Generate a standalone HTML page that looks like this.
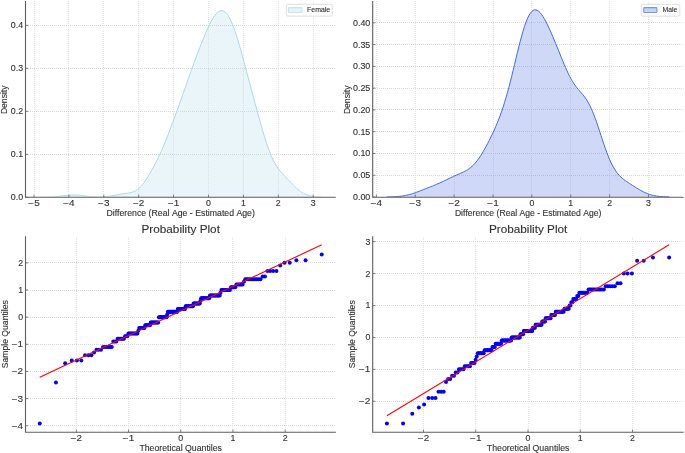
<!DOCTYPE html>
<html><head><meta charset="utf-8"><title>plot</title>
<style>html,body{margin:0;padding:0;background:#fff;width:685px;height:453px;overflow:hidden}svg{display:block;will-change:transform}</style>
</head><body>
<svg width="685" height="453" viewBox="0 0 685 453" font-family='"Liberation Sans", sans-serif'>
<style>.g{stroke:#d8d8d8;stroke-width:1;stroke-dasharray:1 1;fill:none}.gv{stroke:#e4e4e4;stroke-width:1;stroke-dasharray:1 1;fill:none}.sp{stroke:#5e5e5e;stroke-width:1.1;fill:none}.tk{stroke:#5e5e5e;stroke-width:0.8}circle{fill:#0000ff}text{stroke:#333333;stroke-width:0.12;font-variant-ligatures:none;font-kerning:none}</style>
<rect width="685" height="453" fill="#ffffff"/>
<line x1="34.50" y1="1" x2="34.50" y2="197.30" class="gv"/>
<line x1="68.50" y1="1" x2="68.50" y2="197.30" class="gv"/>
<line x1="103.50" y1="1" x2="103.50" y2="197.30" class="gv"/>
<line x1="138.50" y1="1" x2="138.50" y2="197.30" class="gv"/>
<line x1="173.50" y1="1" x2="173.50" y2="197.30" class="gv"/>
<line x1="208.50" y1="1" x2="208.50" y2="197.30" class="gv"/>
<line x1="243.50" y1="1" x2="243.50" y2="197.30" class="gv"/>
<line x1="278.50" y1="1" x2="278.50" y2="197.30" class="gv"/>
<line x1="313.50" y1="1" x2="313.50" y2="197.30" class="gv"/>
<line x1="26.00" y1="154.50" x2="335.80" y2="154.50" class="g"/>
<line x1="26.00" y1="111.50" x2="335.80" y2="111.50" class="g"/>
<line x1="26.00" y1="68.50" x2="335.80" y2="68.50" class="g"/>
<line x1="26.00" y1="25.50" x2="335.80" y2="25.50" class="g"/>
<path d="M38.99 197.28L40.41 197.27L41.83 197.26L43.26 197.25L44.68 197.22L46.10 197.19L47.52 197.16L48.95 197.11L50.37 197.04L51.79 196.96L53.21 196.87L54.63 196.76L56.06 196.63L57.48 196.49L58.90 196.33L60.32 196.15L61.74 195.97L63.17 195.79L64.59 195.61L66.01 195.44L67.43 195.28L68.86 195.15L70.28 195.05L71.70 194.99L73.12 194.96L74.54 194.97L75.97 195.02L77.39 195.10L78.81 195.22L80.23 195.36L81.65 195.52L83.08 195.70L84.50 195.88L85.92 196.06L87.34 196.23L88.77 196.40L90.19 196.54L91.61 196.67L93.03 196.77L94.45 196.86L95.88 196.91L97.30 196.95L98.72 196.95L100.14 196.93L101.56 196.89L102.99 196.81L104.41 196.71L105.83 196.58L107.25 196.42L108.68 196.23L110.10 196.01L111.52 195.78L112.94 195.53L114.36 195.26L115.79 195.00L117.21 194.73L118.63 194.48L120.05 194.23L121.47 194.01L122.90 193.81L124.32 193.62L125.74 193.43L127.16 193.24L128.58 193.02L130.01 192.76L131.43 192.43L132.85 191.99L134.27 191.43L135.70 190.72L137.12 189.83L138.54 188.75L139.96 187.46L141.38 185.96L142.81 184.26L144.23 182.38L145.65 180.32L147.07 178.11L148.49 175.78L149.92 173.35L151.34 170.83L152.76 168.25L154.18 165.60L155.61 162.90L157.03 160.11L158.45 157.24L159.87 154.27L161.29 151.19L162.72 147.97L164.14 144.63L165.56 141.16L166.98 137.58L168.40 133.90L169.83 130.15L171.25 126.34L172.67 122.50L174.09 118.64L175.52 114.77L176.94 110.88L178.36 106.98L179.78 103.06L181.20 99.10L182.63 95.11L184.05 91.08L185.47 87.02L186.89 82.94L188.31 78.87L189.74 74.81L191.16 70.79L192.58 66.82L194.00 62.90L195.43 59.05L196.85 55.26L198.27 51.53L199.69 47.85L201.11 44.22L202.54 40.65L203.96 37.14L205.38 33.72L206.80 30.40L208.22 27.22L209.65 24.22L211.07 21.43L212.49 18.88L213.91 16.61L215.33 14.66L216.76 13.05L218.18 11.81L219.60 10.98L221.02 10.57L222.45 10.61L223.87 11.12L225.29 12.11L226.71 13.59L228.13 15.55L229.56 17.98L230.98 20.86L232.40 24.16L233.82 27.85L235.24 31.89L236.67 36.23L238.09 40.83L239.51 45.66L240.93 50.67L242.36 55.81L243.78 61.06L245.20 66.38L246.62 71.73L248.04 77.10L249.47 82.47L250.89 87.81L252.31 93.13L253.73 98.42L255.15 103.68L256.58 108.90L258.00 114.08L259.42 119.20L260.84 124.25L262.27 129.21L263.69 134.02L265.11 138.66L266.53 143.09L267.95 147.26L269.38 151.15L270.80 154.73L272.22 157.98L273.64 160.93L275.06 163.57L276.49 165.94L277.91 168.07L279.33 170.00L280.75 171.77L282.18 173.44L283.60 175.02L285.02 176.55L286.44 178.06L287.86 179.55L289.29 181.03L290.71 182.50L292.13 183.95L293.55 185.36L294.97 186.74L296.40 188.05L297.82 189.29L299.24 190.44L300.66 191.49L302.08 192.45L303.51 193.30L304.93 194.04L306.35 194.68L307.77 195.22L309.20 195.67L310.62 196.05L312.04 196.35L313.46 196.59L314.88 196.77L316.31 196.92L317.73 197.03L319.15 197.11L320.57 197.17L321.99 197.21 L321.99 197.30 L38.99 197.30 Z" fill="#add8e6" fill-opacity="0.25" stroke="none"/>
<clipPath id="c25"><rect x="25.50" y="1.00" width="310.30" height="195.60"/></clipPath>
<path d="M38.99 197.28L40.41 197.27L41.83 197.26L43.26 197.25L44.68 197.22L46.10 197.19L47.52 197.16L48.95 197.11L50.37 197.04L51.79 196.96L53.21 196.87L54.63 196.76L56.06 196.63L57.48 196.49L58.90 196.33L60.32 196.15L61.74 195.97L63.17 195.79L64.59 195.61L66.01 195.44L67.43 195.28L68.86 195.15L70.28 195.05L71.70 194.99L73.12 194.96L74.54 194.97L75.97 195.02L77.39 195.10L78.81 195.22L80.23 195.36L81.65 195.52L83.08 195.70L84.50 195.88L85.92 196.06L87.34 196.23L88.77 196.40L90.19 196.54L91.61 196.67L93.03 196.77L94.45 196.86L95.88 196.91L97.30 196.95L98.72 196.95L100.14 196.93L101.56 196.89L102.99 196.81L104.41 196.71L105.83 196.58L107.25 196.42L108.68 196.23L110.10 196.01L111.52 195.78L112.94 195.53L114.36 195.26L115.79 195.00L117.21 194.73L118.63 194.48L120.05 194.23L121.47 194.01L122.90 193.81L124.32 193.62L125.74 193.43L127.16 193.24L128.58 193.02L130.01 192.76L131.43 192.43L132.85 191.99L134.27 191.43L135.70 190.72L137.12 189.83L138.54 188.75L139.96 187.46L141.38 185.96L142.81 184.26L144.23 182.38L145.65 180.32L147.07 178.11L148.49 175.78L149.92 173.35L151.34 170.83L152.76 168.25L154.18 165.60L155.61 162.90L157.03 160.11L158.45 157.24L159.87 154.27L161.29 151.19L162.72 147.97L164.14 144.63L165.56 141.16L166.98 137.58L168.40 133.90L169.83 130.15L171.25 126.34L172.67 122.50L174.09 118.64L175.52 114.77L176.94 110.88L178.36 106.98L179.78 103.06L181.20 99.10L182.63 95.11L184.05 91.08L185.47 87.02L186.89 82.94L188.31 78.87L189.74 74.81L191.16 70.79L192.58 66.82L194.00 62.90L195.43 59.05L196.85 55.26L198.27 51.53L199.69 47.85L201.11 44.22L202.54 40.65L203.96 37.14L205.38 33.72L206.80 30.40L208.22 27.22L209.65 24.22L211.07 21.43L212.49 18.88L213.91 16.61L215.33 14.66L216.76 13.05L218.18 11.81L219.60 10.98L221.02 10.57L222.45 10.61L223.87 11.12L225.29 12.11L226.71 13.59L228.13 15.55L229.56 17.98L230.98 20.86L232.40 24.16L233.82 27.85L235.24 31.89L236.67 36.23L238.09 40.83L239.51 45.66L240.93 50.67L242.36 55.81L243.78 61.06L245.20 66.38L246.62 71.73L248.04 77.10L249.47 82.47L250.89 87.81L252.31 93.13L253.73 98.42L255.15 103.68L256.58 108.90L258.00 114.08L259.42 119.20L260.84 124.25L262.27 129.21L263.69 134.02L265.11 138.66L266.53 143.09L267.95 147.26L269.38 151.15L270.80 154.73L272.22 157.98L273.64 160.93L275.06 163.57L276.49 165.94L277.91 168.07L279.33 170.00L280.75 171.77L282.18 173.44L283.60 175.02L285.02 176.55L286.44 178.06L287.86 179.55L289.29 181.03L290.71 182.50L292.13 183.95L293.55 185.36L294.97 186.74L296.40 188.05L297.82 189.29L299.24 190.44L300.66 191.49L302.08 192.45L303.51 193.30L304.93 194.04L306.35 194.68L307.77 195.22L309.20 195.67L310.62 196.05L312.04 196.35L313.46 196.59L314.88 196.77L316.31 196.92L317.73 197.03L319.15 197.11L320.57 197.17L321.99 197.21" fill="none" stroke="#add8e6" stroke-width="1.0" stroke-linejoin="round" clip-path="url(#c25)"/>
<path d="M25.50 1.00 V197.30 H335.80" class="sp"/>
<line x1="34.00" y1="197.30" x2="34.00" y2="194.70" class="tk"/>
<text x="34.00" y="205.70" font-size="8.20" text-anchor="middle" fill="#333333" textLength="11.4" lengthAdjust="spacingAndGlyphs">−5</text>
<line x1="68.90" y1="197.30" x2="68.90" y2="194.70" class="tk"/>
<text x="68.90" y="205.70" font-size="8.20" text-anchor="middle" fill="#333333" textLength="11.4" lengthAdjust="spacingAndGlyphs">−4</text>
<line x1="103.80" y1="197.30" x2="103.80" y2="194.70" class="tk"/>
<text x="103.80" y="205.70" font-size="8.20" text-anchor="middle" fill="#333333" textLength="11.4" lengthAdjust="spacingAndGlyphs">−3</text>
<line x1="138.70" y1="197.30" x2="138.70" y2="194.70" class="tk"/>
<text x="138.70" y="205.70" font-size="8.20" text-anchor="middle" fill="#333333" textLength="11.4" lengthAdjust="spacingAndGlyphs">−2</text>
<line x1="173.60" y1="197.30" x2="173.60" y2="194.70" class="tk"/>
<text x="173.60" y="205.70" font-size="8.20" text-anchor="middle" fill="#333333" textLength="11.4" lengthAdjust="spacingAndGlyphs">−1</text>
<line x1="208.50" y1="197.30" x2="208.50" y2="194.70" class="tk"/>
<text x="208.50" y="205.70" font-size="8.20" text-anchor="middle" fill="#333333" textLength="4.9" lengthAdjust="spacingAndGlyphs">0</text>
<line x1="243.40" y1="197.30" x2="243.40" y2="194.70" class="tk"/>
<text x="243.40" y="205.70" font-size="8.20" text-anchor="middle" fill="#333333" textLength="4.9" lengthAdjust="spacingAndGlyphs">1</text>
<line x1="278.30" y1="197.30" x2="278.30" y2="194.70" class="tk"/>
<text x="278.30" y="205.70" font-size="8.20" text-anchor="middle" fill="#333333" textLength="4.9" lengthAdjust="spacingAndGlyphs">2</text>
<line x1="313.20" y1="197.30" x2="313.20" y2="194.70" class="tk"/>
<text x="313.20" y="205.70" font-size="8.20" text-anchor="middle" fill="#333333" textLength="4.9" lengthAdjust="spacingAndGlyphs">3</text>
<line x1="25.50" y1="197.30" x2="28.10" y2="197.30" class="tk"/>
<text x="23.10" y="200.25" font-size="8.20" text-anchor="end" fill="#333333" textLength="12.3" lengthAdjust="spacingAndGlyphs">0.0</text>
<line x1="25.50" y1="154.30" x2="28.10" y2="154.30" class="tk"/>
<text x="23.10" y="157.25" font-size="8.20" text-anchor="end" fill="#333333" textLength="12.3" lengthAdjust="spacingAndGlyphs">0.1</text>
<line x1="25.50" y1="111.30" x2="28.10" y2="111.30" class="tk"/>
<text x="23.10" y="114.25" font-size="8.20" text-anchor="end" fill="#333333" textLength="12.3" lengthAdjust="spacingAndGlyphs">0.2</text>
<line x1="25.50" y1="68.30" x2="28.10" y2="68.30" class="tk"/>
<text x="23.10" y="71.25" font-size="8.20" text-anchor="end" fill="#333333" textLength="12.3" lengthAdjust="spacingAndGlyphs">0.3</text>
<line x1="25.50" y1="25.30" x2="28.10" y2="25.30" class="tk"/>
<text x="23.10" y="28.25" font-size="8.20" text-anchor="end" fill="#333333" textLength="12.3" lengthAdjust="spacingAndGlyphs">0.4</text>
<rect x="286.30" y="4.30" width="46.00" height="11.80" rx="1.5" fill="#ffffff" fill-opacity="0.8" stroke="#d6d6d6" stroke-width="0.8"/>
<rect x="288.40" y="7.6" width="13.60" height="4.9" fill="#add8e6" fill-opacity="0.3" stroke="#add8e6" stroke-opacity="0.65" stroke-width="1.1" rx="0.8"/>
<text x="307.10" y="12.10" font-size="6.80" text-anchor="start" fill="#333333" textLength="23.0" lengthAdjust="spacingAndGlyphs">Female</text>
<text x="180.65" y="215.60" font-size="8.20" text-anchor="middle" fill="#333333" textLength="148.5" lengthAdjust="spacingAndGlyphs">Difference (Real Age - Estimated Age)</text>
<text transform="translate(6.90 99.80) rotate(-90)" font-size="8.20" text-anchor="middle" fill="#333333" textLength="28.6" lengthAdjust="spacingAndGlyphs">Density</text>
<line x1="376.50" y1="1" x2="376.50" y2="197.20" class="gv"/>
<line x1="415.50" y1="1" x2="415.50" y2="197.20" class="gv"/>
<line x1="454.50" y1="1" x2="454.50" y2="197.20" class="gv"/>
<line x1="493.50" y1="1" x2="493.50" y2="197.20" class="gv"/>
<line x1="531.50" y1="1" x2="531.50" y2="197.20" class="gv"/>
<line x1="570.50" y1="1" x2="570.50" y2="197.20" class="gv"/>
<line x1="609.50" y1="1" x2="609.50" y2="197.20" class="gv"/>
<line x1="648.50" y1="1" x2="648.50" y2="197.20" class="gv"/>
<line x1="373.00" y1="175.50" x2="683.60" y2="175.50" class="g"/>
<line x1="373.00" y1="153.50" x2="683.60" y2="153.50" class="g"/>
<line x1="373.00" y1="131.50" x2="683.60" y2="131.50" class="g"/>
<line x1="373.00" y1="109.50" x2="683.60" y2="109.50" class="g"/>
<line x1="373.00" y1="88.50" x2="683.60" y2="88.50" class="g"/>
<line x1="373.00" y1="66.50" x2="683.60" y2="66.50" class="g"/>
<line x1="373.00" y1="44.50" x2="683.60" y2="44.50" class="g"/>
<line x1="373.00" y1="22.50" x2="683.60" y2="22.50" class="g"/>
<path d="M386.91 196.94L388.32 196.92L389.74 196.89L391.16 196.86L392.58 196.81L394.00 196.75L395.41 196.67L396.83 196.58L398.25 196.47L399.67 196.33L401.08 196.17L402.50 195.98L403.92 195.75L405.34 195.49L406.76 195.20L408.17 194.87L409.59 194.51L411.01 194.11L412.43 193.68L413.85 193.22L415.26 192.73L416.68 192.21L418.10 191.68L419.52 191.14L420.94 190.59L422.35 190.03L423.77 189.46L425.19 188.90L426.61 188.34L428.03 187.78L429.44 187.23L430.86 186.67L432.28 186.11L433.70 185.54L435.12 184.96L436.53 184.37L437.95 183.77L439.37 183.15L440.79 182.51L442.21 181.85L443.62 181.18L445.04 180.49L446.46 179.80L447.88 179.10L449.30 178.40L450.71 177.71L452.13 177.03L453.55 176.37L454.97 175.72L456.39 175.08L457.80 174.46L459.22 173.85L460.64 173.23L462.06 172.60L463.48 171.94L464.89 171.23L466.31 170.46L467.73 169.61L469.15 168.65L470.57 167.58L471.98 166.38L473.40 165.03L474.82 163.53L476.24 161.88L477.66 160.07L479.07 158.10L480.49 155.99L481.91 153.75L483.33 151.38L484.74 148.90L486.16 146.33L487.58 143.66L489.00 140.91L490.42 138.07L491.83 135.15L493.25 132.14L494.67 129.02L496.09 125.77L497.51 122.38L498.92 118.81L500.34 115.05L501.76 111.07L503.18 106.85L504.60 102.38L506.01 97.64L507.43 92.64L508.85 87.39L510.27 81.92L511.69 76.25L513.10 70.44L514.52 64.54L515.94 58.60L517.36 52.71L518.78 46.94L520.19 41.37L521.61 36.06L523.03 31.11L524.45 26.56L525.87 22.50L527.28 18.95L528.70 15.97L530.12 13.57L531.54 11.77L532.96 10.56L534.37 9.93L535.79 9.86L537.21 10.30L538.63 11.23L540.05 12.58L541.46 14.31L542.88 16.38L544.30 18.72L545.72 21.30L547.14 24.09L548.55 27.03L549.97 30.12L551.39 33.31L552.81 36.60L554.23 39.97L555.64 43.40L557.06 46.88L558.48 50.39L559.90 53.92L561.32 57.43L562.73 60.90L564.15 64.31L565.57 67.61L566.99 70.79L568.41 73.81L569.82 76.65L571.24 79.28L572.66 81.70L574.08 83.91L575.49 85.93L576.91 87.78L578.33 89.50L579.75 91.14L581.17 92.75L582.58 94.39L584.00 96.13L585.42 98.03L586.84 100.14L588.26 102.50L589.67 105.15L591.09 108.10L592.51 111.35L593.93 114.90L595.35 118.71L596.76 122.73L598.18 126.93L599.60 131.23L601.02 135.58L602.44 139.90L603.85 144.14L605.27 148.25L606.69 152.16L608.11 155.84L609.53 159.26L610.94 162.41L612.36 165.26L613.78 167.83L615.20 170.13L616.62 172.16L618.03 173.97L619.45 175.57L620.87 176.99L622.29 178.26L623.71 179.42L625.12 180.49L626.54 181.50L627.96 182.46L629.38 183.39L630.80 184.30L632.21 185.21L633.63 186.11L635.05 187.00L636.47 187.88L637.89 188.74L639.30 189.58L640.72 190.39L642.14 191.17L643.56 191.90L644.98 192.58L646.39 193.21L647.81 193.78L649.23 194.29L650.65 194.74L652.07 195.14L653.48 195.48L654.90 195.78L656.32 196.02L657.74 196.23L659.16 196.40L660.57 196.53L661.99 196.64L663.41 196.73L664.83 196.80L666.24 196.85L667.66 196.89L669.08 196.92 L669.08 197.00 L386.91 197.00 Z" fill="#4169e1" fill-opacity="0.25" stroke="none"/>
<clipPath id="c372"><rect x="372.70" y="1.00" width="310.90" height="196.20"/></clipPath>
<path d="M386.91 196.94L388.32 196.92L389.74 196.89L391.16 196.86L392.58 196.81L394.00 196.75L395.41 196.67L396.83 196.58L398.25 196.47L399.67 196.33L401.08 196.17L402.50 195.98L403.92 195.75L405.34 195.49L406.76 195.20L408.17 194.87L409.59 194.51L411.01 194.11L412.43 193.68L413.85 193.22L415.26 192.73L416.68 192.21L418.10 191.68L419.52 191.14L420.94 190.59L422.35 190.03L423.77 189.46L425.19 188.90L426.61 188.34L428.03 187.78L429.44 187.23L430.86 186.67L432.28 186.11L433.70 185.54L435.12 184.96L436.53 184.37L437.95 183.77L439.37 183.15L440.79 182.51L442.21 181.85L443.62 181.18L445.04 180.49L446.46 179.80L447.88 179.10L449.30 178.40L450.71 177.71L452.13 177.03L453.55 176.37L454.97 175.72L456.39 175.08L457.80 174.46L459.22 173.85L460.64 173.23L462.06 172.60L463.48 171.94L464.89 171.23L466.31 170.46L467.73 169.61L469.15 168.65L470.57 167.58L471.98 166.38L473.40 165.03L474.82 163.53L476.24 161.88L477.66 160.07L479.07 158.10L480.49 155.99L481.91 153.75L483.33 151.38L484.74 148.90L486.16 146.33L487.58 143.66L489.00 140.91L490.42 138.07L491.83 135.15L493.25 132.14L494.67 129.02L496.09 125.77L497.51 122.38L498.92 118.81L500.34 115.05L501.76 111.07L503.18 106.85L504.60 102.38L506.01 97.64L507.43 92.64L508.85 87.39L510.27 81.92L511.69 76.25L513.10 70.44L514.52 64.54L515.94 58.60L517.36 52.71L518.78 46.94L520.19 41.37L521.61 36.06L523.03 31.11L524.45 26.56L525.87 22.50L527.28 18.95L528.70 15.97L530.12 13.57L531.54 11.77L532.96 10.56L534.37 9.93L535.79 9.86L537.21 10.30L538.63 11.23L540.05 12.58L541.46 14.31L542.88 16.38L544.30 18.72L545.72 21.30L547.14 24.09L548.55 27.03L549.97 30.12L551.39 33.31L552.81 36.60L554.23 39.97L555.64 43.40L557.06 46.88L558.48 50.39L559.90 53.92L561.32 57.43L562.73 60.90L564.15 64.31L565.57 67.61L566.99 70.79L568.41 73.81L569.82 76.65L571.24 79.28L572.66 81.70L574.08 83.91L575.49 85.93L576.91 87.78L578.33 89.50L579.75 91.14L581.17 92.75L582.58 94.39L584.00 96.13L585.42 98.03L586.84 100.14L588.26 102.50L589.67 105.15L591.09 108.10L592.51 111.35L593.93 114.90L595.35 118.71L596.76 122.73L598.18 126.93L599.60 131.23L601.02 135.58L602.44 139.90L603.85 144.14L605.27 148.25L606.69 152.16L608.11 155.84L609.53 159.26L610.94 162.41L612.36 165.26L613.78 167.83L615.20 170.13L616.62 172.16L618.03 173.97L619.45 175.57L620.87 176.99L622.29 178.26L623.71 179.42L625.12 180.49L626.54 181.50L627.96 182.46L629.38 183.39L630.80 184.30L632.21 185.21L633.63 186.11L635.05 187.00L636.47 187.88L637.89 188.74L639.30 189.58L640.72 190.39L642.14 191.17L643.56 191.90L644.98 192.58L646.39 193.21L647.81 193.78L649.23 194.29L650.65 194.74L652.07 195.14L653.48 195.48L654.90 195.78L656.32 196.02L657.74 196.23L659.16 196.40L660.57 196.53L661.99 196.64L663.41 196.73L664.83 196.80L666.24 196.85L667.66 196.89L669.08 196.92" fill="none" stroke="#4169e1" stroke-width="1.0" stroke-linejoin="round" clip-path="url(#c372)"/>
<path d="M372.70 1.00 V197.20 H683.60" class="sp"/>
<line x1="376.40" y1="197.20" x2="376.40" y2="194.60" class="tk"/>
<text x="376.40" y="205.60" font-size="8.20" text-anchor="middle" fill="#333333" textLength="11.4" lengthAdjust="spacingAndGlyphs">−4</text>
<line x1="415.27" y1="197.20" x2="415.27" y2="194.60" class="tk"/>
<text x="415.27" y="205.60" font-size="8.20" text-anchor="middle" fill="#333333" textLength="11.4" lengthAdjust="spacingAndGlyphs">−3</text>
<line x1="454.14" y1="197.20" x2="454.14" y2="194.60" class="tk"/>
<text x="454.14" y="205.60" font-size="8.20" text-anchor="middle" fill="#333333" textLength="11.4" lengthAdjust="spacingAndGlyphs">−2</text>
<line x1="493.01" y1="197.20" x2="493.01" y2="194.60" class="tk"/>
<text x="493.01" y="205.60" font-size="8.20" text-anchor="middle" fill="#333333" textLength="11.4" lengthAdjust="spacingAndGlyphs">−1</text>
<line x1="531.88" y1="197.20" x2="531.88" y2="194.60" class="tk"/>
<text x="531.88" y="205.60" font-size="8.20" text-anchor="middle" fill="#333333" textLength="4.9" lengthAdjust="spacingAndGlyphs">0</text>
<line x1="570.75" y1="197.20" x2="570.75" y2="194.60" class="tk"/>
<text x="570.75" y="205.60" font-size="8.20" text-anchor="middle" fill="#333333" textLength="4.9" lengthAdjust="spacingAndGlyphs">1</text>
<line x1="609.62" y1="197.20" x2="609.62" y2="194.60" class="tk"/>
<text x="609.62" y="205.60" font-size="8.20" text-anchor="middle" fill="#333333" textLength="4.9" lengthAdjust="spacingAndGlyphs">2</text>
<line x1="648.49" y1="197.20" x2="648.49" y2="194.60" class="tk"/>
<text x="648.49" y="205.60" font-size="8.20" text-anchor="middle" fill="#333333" textLength="4.9" lengthAdjust="spacingAndGlyphs">3</text>
<line x1="372.70" y1="197.00" x2="375.30" y2="197.00" class="tk"/>
<text x="370.30" y="199.95" font-size="8.20" text-anchor="end" fill="#333333" textLength="17.3" lengthAdjust="spacingAndGlyphs">0.00</text>
<line x1="372.70" y1="175.22" x2="375.30" y2="175.22" class="tk"/>
<text x="370.30" y="178.17" font-size="8.20" text-anchor="end" fill="#333333" textLength="17.3" lengthAdjust="spacingAndGlyphs">0.05</text>
<line x1="372.70" y1="153.45" x2="375.30" y2="153.45" class="tk"/>
<text x="370.30" y="156.40" font-size="8.20" text-anchor="end" fill="#333333" textLength="17.3" lengthAdjust="spacingAndGlyphs">0.10</text>
<line x1="372.70" y1="131.68" x2="375.30" y2="131.68" class="tk"/>
<text x="370.30" y="134.62" font-size="8.20" text-anchor="end" fill="#333333" textLength="17.3" lengthAdjust="spacingAndGlyphs">0.15</text>
<line x1="372.70" y1="109.90" x2="375.30" y2="109.90" class="tk"/>
<text x="370.30" y="112.85" font-size="8.20" text-anchor="end" fill="#333333" textLength="17.3" lengthAdjust="spacingAndGlyphs">0.20</text>
<line x1="372.70" y1="88.12" x2="375.30" y2="88.12" class="tk"/>
<text x="370.30" y="91.08" font-size="8.20" text-anchor="end" fill="#333333" textLength="17.3" lengthAdjust="spacingAndGlyphs">0.25</text>
<line x1="372.70" y1="66.35" x2="375.30" y2="66.35" class="tk"/>
<text x="370.30" y="69.30" font-size="8.20" text-anchor="end" fill="#333333" textLength="17.3" lengthAdjust="spacingAndGlyphs">0.30</text>
<line x1="372.70" y1="44.58" x2="375.30" y2="44.58" class="tk"/>
<text x="370.30" y="47.53" font-size="8.20" text-anchor="end" fill="#333333" textLength="17.3" lengthAdjust="spacingAndGlyphs">0.35</text>
<line x1="372.70" y1="22.80" x2="375.30" y2="22.80" class="tk"/>
<text x="370.30" y="25.75" font-size="8.20" text-anchor="end" fill="#333333" textLength="17.3" lengthAdjust="spacingAndGlyphs">0.40</text>
<rect x="641.30" y="4.30" width="38.50" height="11.80" rx="1.5" fill="#ffffff" fill-opacity="0.8" stroke="#d6d6d6" stroke-width="0.8"/>
<rect x="643.70" y="7.6" width="13.30" height="4.9" fill="#4169e1" fill-opacity="0.3" stroke="#4169e1" stroke-opacity="0.65" stroke-width="1.1" rx="0.8"/>
<text x="662.50" y="12.10" font-size="6.80" text-anchor="start" fill="#333333" textLength="14.8" lengthAdjust="spacingAndGlyphs">Male</text>
<text x="528.15" y="215.60" font-size="8.20" text-anchor="middle" fill="#333333" textLength="146.5" lengthAdjust="spacingAndGlyphs">Difference (Real Age - Estimated Age)</text>
<text transform="translate(349.90 99.80) rotate(-90)" font-size="8.20" text-anchor="middle" fill="#333333" textLength="28.6" lengthAdjust="spacingAndGlyphs">Density</text>
<line x1="76.50" y1="237" x2="76.50" y2="432.20" class="gv"/>
<line x1="128.50" y1="237" x2="128.50" y2="432.20" class="gv"/>
<line x1="180.50" y1="237" x2="180.50" y2="432.20" class="gv"/>
<line x1="232.50" y1="237" x2="232.50" y2="432.20" class="gv"/>
<line x1="285.50" y1="237" x2="285.50" y2="432.20" class="gv"/>
<line x1="26.00" y1="425.50" x2="335.90" y2="425.50" class="g"/>
<line x1="26.00" y1="398.50" x2="335.90" y2="398.50" class="g"/>
<line x1="26.00" y1="371.50" x2="335.90" y2="371.50" class="g"/>
<line x1="26.00" y1="344.50" x2="335.90" y2="344.50" class="g"/>
<line x1="26.00" y1="317.50" x2="335.90" y2="317.50" class="g"/>
<line x1="26.00" y1="290.50" x2="335.90" y2="290.50" class="g"/>
<line x1="26.00" y1="262.50" x2="335.90" y2="262.50" class="g"/>
<circle cx="39.77" cy="423.44" r="2.0"/>
<circle cx="55.93" cy="382.58" r="2.0"/>
<circle cx="65.14" cy="363.30" r="2.0"/>
<circle cx="71.73" cy="360.59" r="2.0"/>
<circle cx="76.94" cy="360.59" r="2.0"/>
<circle cx="81.29" cy="360.59" r="2.0"/>
<circle cx="85.03" cy="355.16" r="2.0"/>
<circle cx="88.34" cy="355.16" r="2.0"/>
<circle cx="91.32" cy="355.16" r="2.0"/>
<circle cx="94.03" cy="352.44" r="2.0"/>
<circle cx="96.52" cy="349.73" r="2.0"/>
<circle cx="98.84" cy="349.73" r="2.0"/>
<circle cx="101.01" cy="349.73" r="2.0"/>
<circle cx="103.04" cy="347.01" r="2.0"/>
<circle cx="104.97" cy="347.01" r="2.0"/>
<circle cx="106.79" cy="347.01" r="2.0"/>
<circle cx="108.53" cy="347.01" r="2.0"/>
<circle cx="110.20" cy="347.01" r="2.0"/>
<circle cx="111.79" cy="347.01" r="2.0"/>
<circle cx="113.32" cy="341.58" r="2.0"/>
<circle cx="114.80" cy="341.58" r="2.0"/>
<circle cx="116.23" cy="341.58" r="2.0"/>
<circle cx="117.61" cy="338.87" r="2.0"/>
<circle cx="118.94" cy="338.87" r="2.0"/>
<circle cx="120.24" cy="338.87" r="2.0"/>
<circle cx="121.50" cy="338.87" r="2.0"/>
<circle cx="122.73" cy="338.87" r="2.0"/>
<circle cx="123.92" cy="338.87" r="2.0"/>
<circle cx="125.09" cy="336.15" r="2.0"/>
<circle cx="126.23" cy="336.15" r="2.0"/>
<circle cx="127.34" cy="336.15" r="2.0"/>
<circle cx="128.44" cy="333.44" r="2.0"/>
<circle cx="129.50" cy="333.44" r="2.0"/>
<circle cx="130.55" cy="333.44" r="2.0"/>
<circle cx="131.58" cy="333.44" r="2.0"/>
<circle cx="132.59" cy="333.44" r="2.0"/>
<circle cx="133.58" cy="333.44" r="2.0"/>
<circle cx="134.55" cy="333.44" r="2.0"/>
<circle cx="135.51" cy="333.44" r="2.0"/>
<circle cx="136.45" cy="333.44" r="2.0"/>
<circle cx="137.38" cy="333.44" r="2.0"/>
<circle cx="138.30" cy="330.72" r="2.0"/>
<circle cx="139.20" cy="328.01" r="2.0"/>
<circle cx="140.09" cy="328.01" r="2.0"/>
<circle cx="140.97" cy="328.01" r="2.0"/>
<circle cx="141.84" cy="328.01" r="2.0"/>
<circle cx="142.69" cy="328.01" r="2.0"/>
<circle cx="143.54" cy="328.01" r="2.0"/>
<circle cx="144.38" cy="328.01" r="2.0"/>
<circle cx="145.21" cy="325.29" r="2.0"/>
<circle cx="146.02" cy="325.29" r="2.0"/>
<circle cx="146.84" cy="325.29" r="2.0"/>
<circle cx="147.64" cy="325.29" r="2.0"/>
<circle cx="148.43" cy="325.29" r="2.0"/>
<circle cx="149.22" cy="325.29" r="2.0"/>
<circle cx="150.00" cy="325.29" r="2.0"/>
<circle cx="150.77" cy="322.58" r="2.0"/>
<circle cx="151.54" cy="322.58" r="2.0"/>
<circle cx="152.30" cy="322.58" r="2.0"/>
<circle cx="153.06" cy="322.58" r="2.0"/>
<circle cx="153.80" cy="322.58" r="2.0"/>
<circle cx="154.55" cy="322.58" r="2.0"/>
<circle cx="155.29" cy="322.58" r="2.0"/>
<circle cx="156.02" cy="322.58" r="2.0"/>
<circle cx="156.75" cy="322.58" r="2.0"/>
<circle cx="157.47" cy="322.58" r="2.0"/>
<circle cx="158.19" cy="322.58" r="2.0"/>
<circle cx="158.91" cy="317.15" r="2.0"/>
<circle cx="159.62" cy="317.15" r="2.0"/>
<circle cx="160.32" cy="317.15" r="2.0"/>
<circle cx="161.03" cy="317.15" r="2.0"/>
<circle cx="161.73" cy="317.15" r="2.0"/>
<circle cx="162.42" cy="317.15" r="2.0"/>
<circle cx="163.11" cy="317.15" r="2.0"/>
<circle cx="163.80" cy="317.15" r="2.0"/>
<circle cx="164.49" cy="317.15" r="2.0"/>
<circle cx="165.18" cy="317.15" r="2.0"/>
<circle cx="165.86" cy="317.15" r="2.0"/>
<circle cx="166.54" cy="317.15" r="2.0"/>
<circle cx="167.21" cy="314.44" r="2.0"/>
<circle cx="167.89" cy="311.72" r="2.0"/>
<circle cx="168.56" cy="311.72" r="2.0"/>
<circle cx="169.23" cy="311.72" r="2.0"/>
<circle cx="169.90" cy="311.72" r="2.0"/>
<circle cx="170.56" cy="311.72" r="2.0"/>
<circle cx="171.23" cy="311.72" r="2.0"/>
<circle cx="171.89" cy="311.72" r="2.0"/>
<circle cx="172.55" cy="311.72" r="2.0"/>
<circle cx="173.21" cy="311.72" r="2.0"/>
<circle cx="173.87" cy="311.72" r="2.0"/>
<circle cx="174.53" cy="311.72" r="2.0"/>
<circle cx="175.19" cy="311.72" r="2.0"/>
<circle cx="175.85" cy="311.72" r="2.0"/>
<circle cx="176.50" cy="311.72" r="2.0"/>
<circle cx="177.16" cy="311.72" r="2.0"/>
<circle cx="177.81" cy="309.00" r="2.0"/>
<circle cx="178.46" cy="309.00" r="2.0"/>
<circle cx="179.12" cy="309.00" r="2.0"/>
<circle cx="179.77" cy="309.00" r="2.0"/>
<circle cx="180.42" cy="309.00" r="2.0"/>
<circle cx="181.08" cy="309.00" r="2.0"/>
<circle cx="181.73" cy="309.00" r="2.0"/>
<circle cx="182.38" cy="309.00" r="2.0"/>
<circle cx="183.04" cy="309.00" r="2.0"/>
<circle cx="183.69" cy="309.00" r="2.0"/>
<circle cx="184.34" cy="309.00" r="2.0"/>
<circle cx="185.00" cy="309.00" r="2.0"/>
<circle cx="185.65" cy="306.29" r="2.0"/>
<circle cx="186.31" cy="306.29" r="2.0"/>
<circle cx="186.97" cy="306.29" r="2.0"/>
<circle cx="187.63" cy="306.29" r="2.0"/>
<circle cx="188.29" cy="306.29" r="2.0"/>
<circle cx="188.95" cy="306.29" r="2.0"/>
<circle cx="189.61" cy="306.29" r="2.0"/>
<circle cx="190.27" cy="306.29" r="2.0"/>
<circle cx="190.94" cy="306.29" r="2.0"/>
<circle cx="191.60" cy="306.29" r="2.0"/>
<circle cx="192.27" cy="306.29" r="2.0"/>
<circle cx="192.94" cy="306.29" r="2.0"/>
<circle cx="193.61" cy="303.57" r="2.0"/>
<circle cx="194.29" cy="303.57" r="2.0"/>
<circle cx="194.96" cy="303.57" r="2.0"/>
<circle cx="195.64" cy="303.57" r="2.0"/>
<circle cx="196.32" cy="303.57" r="2.0"/>
<circle cx="197.01" cy="303.57" r="2.0"/>
<circle cx="197.70" cy="303.57" r="2.0"/>
<circle cx="198.39" cy="303.57" r="2.0"/>
<circle cx="199.08" cy="303.57" r="2.0"/>
<circle cx="199.77" cy="303.57" r="2.0"/>
<circle cx="200.47" cy="300.86" r="2.0"/>
<circle cx="201.18" cy="298.14" r="2.0"/>
<circle cx="201.88" cy="298.14" r="2.0"/>
<circle cx="202.59" cy="298.14" r="2.0"/>
<circle cx="203.31" cy="298.14" r="2.0"/>
<circle cx="204.03" cy="298.14" r="2.0"/>
<circle cx="204.75" cy="298.14" r="2.0"/>
<circle cx="205.48" cy="298.14" r="2.0"/>
<circle cx="206.21" cy="298.14" r="2.0"/>
<circle cx="206.95" cy="298.14" r="2.0"/>
<circle cx="207.70" cy="298.14" r="2.0"/>
<circle cx="208.44" cy="298.14" r="2.0"/>
<circle cx="209.20" cy="298.14" r="2.0"/>
<circle cx="209.96" cy="295.43" r="2.0"/>
<circle cx="210.73" cy="295.43" r="2.0"/>
<circle cx="211.50" cy="295.43" r="2.0"/>
<circle cx="212.28" cy="295.43" r="2.0"/>
<circle cx="213.07" cy="295.43" r="2.0"/>
<circle cx="213.86" cy="295.43" r="2.0"/>
<circle cx="214.66" cy="295.43" r="2.0"/>
<circle cx="215.48" cy="295.43" r="2.0"/>
<circle cx="216.29" cy="295.43" r="2.0"/>
<circle cx="217.12" cy="295.43" r="2.0"/>
<circle cx="217.96" cy="295.43" r="2.0"/>
<circle cx="218.81" cy="295.43" r="2.0"/>
<circle cx="219.66" cy="295.43" r="2.0"/>
<circle cx="220.53" cy="292.71" r="2.0"/>
<circle cx="221.41" cy="290.00" r="2.0"/>
<circle cx="222.30" cy="290.00" r="2.0"/>
<circle cx="223.20" cy="290.00" r="2.0"/>
<circle cx="224.12" cy="290.00" r="2.0"/>
<circle cx="225.05" cy="290.00" r="2.0"/>
<circle cx="225.99" cy="290.00" r="2.0"/>
<circle cx="226.95" cy="290.00" r="2.0"/>
<circle cx="227.92" cy="290.00" r="2.0"/>
<circle cx="228.91" cy="290.00" r="2.0"/>
<circle cx="229.92" cy="290.00" r="2.0"/>
<circle cx="230.95" cy="287.28" r="2.0"/>
<circle cx="232.00" cy="287.28" r="2.0"/>
<circle cx="233.06" cy="287.28" r="2.0"/>
<circle cx="234.16" cy="287.28" r="2.0"/>
<circle cx="235.27" cy="287.28" r="2.0"/>
<circle cx="236.41" cy="284.57" r="2.0"/>
<circle cx="237.58" cy="284.57" r="2.0"/>
<circle cx="238.77" cy="284.57" r="2.0"/>
<circle cx="240.00" cy="284.57" r="2.0"/>
<circle cx="241.26" cy="284.57" r="2.0"/>
<circle cx="242.56" cy="284.57" r="2.0"/>
<circle cx="243.89" cy="281.85" r="2.0"/>
<circle cx="245.27" cy="279.14" r="2.0"/>
<circle cx="246.70" cy="279.14" r="2.0"/>
<circle cx="248.18" cy="279.14" r="2.0"/>
<circle cx="249.71" cy="279.14" r="2.0"/>
<circle cx="251.30" cy="279.14" r="2.0"/>
<circle cx="252.97" cy="279.14" r="2.0"/>
<circle cx="254.71" cy="279.14" r="2.0"/>
<circle cx="256.53" cy="279.14" r="2.0"/>
<circle cx="258.46" cy="279.14" r="2.0"/>
<circle cx="260.49" cy="279.14" r="2.0"/>
<circle cx="262.66" cy="276.42" r="2.0"/>
<circle cx="264.98" cy="276.42" r="2.0"/>
<circle cx="267.47" cy="271.00" r="2.0"/>
<circle cx="270.18" cy="271.00" r="2.0"/>
<circle cx="273.16" cy="271.00" r="2.0"/>
<circle cx="276.47" cy="271.00" r="2.0"/>
<circle cx="280.21" cy="265.56" r="2.0"/>
<circle cx="284.56" cy="262.85" r="2.0"/>
<circle cx="289.77" cy="262.85" r="2.0"/>
<circle cx="296.36" cy="260.13" r="2.0"/>
<circle cx="305.57" cy="260.13" r="2.0"/>
<circle cx="321.73" cy="254.43" r="2.0"/>
<line x1="39.77" y1="377.18" x2="321.73" y2="244.82" stroke="#ff0000" stroke-width="1.1"/>
<path d="M25.50 236.30 V432.20 H335.90" class="sp"/>
<line x1="76.35" y1="432.20" x2="76.35" y2="429.60" class="tk"/>
<text x="76.35" y="440.60" font-size="8.20" text-anchor="middle" fill="#333333" textLength="11.4" lengthAdjust="spacingAndGlyphs">−2</text>
<line x1="128.55" y1="432.20" x2="128.55" y2="429.60" class="tk"/>
<text x="128.55" y="440.60" font-size="8.20" text-anchor="middle" fill="#333333" textLength="11.4" lengthAdjust="spacingAndGlyphs">−1</text>
<line x1="180.75" y1="432.20" x2="180.75" y2="429.60" class="tk"/>
<text x="180.75" y="440.60" font-size="8.20" text-anchor="middle" fill="#333333" textLength="4.9" lengthAdjust="spacingAndGlyphs">0</text>
<line x1="232.95" y1="432.20" x2="232.95" y2="429.60" class="tk"/>
<text x="232.95" y="440.60" font-size="8.20" text-anchor="middle" fill="#333333" textLength="4.9" lengthAdjust="spacingAndGlyphs">1</text>
<line x1="285.15" y1="432.20" x2="285.15" y2="429.60" class="tk"/>
<text x="285.15" y="440.60" font-size="8.20" text-anchor="middle" fill="#333333" textLength="4.9" lengthAdjust="spacingAndGlyphs">2</text>
<line x1="25.50" y1="425.75" x2="28.10" y2="425.75" class="tk"/>
<text x="23.10" y="428.70" font-size="8.20" text-anchor="end" fill="#333333" textLength="11.4" lengthAdjust="spacingAndGlyphs">−4</text>
<line x1="25.50" y1="398.60" x2="28.10" y2="398.60" class="tk"/>
<text x="23.10" y="401.55" font-size="8.20" text-anchor="end" fill="#333333" textLength="11.4" lengthAdjust="spacingAndGlyphs">−3</text>
<line x1="25.50" y1="371.45" x2="28.10" y2="371.45" class="tk"/>
<text x="23.10" y="374.40" font-size="8.20" text-anchor="end" fill="#333333" textLength="11.4" lengthAdjust="spacingAndGlyphs">−2</text>
<line x1="25.50" y1="344.30" x2="28.10" y2="344.30" class="tk"/>
<text x="23.10" y="347.25" font-size="8.20" text-anchor="end" fill="#333333" textLength="11.4" lengthAdjust="spacingAndGlyphs">−1</text>
<line x1="25.50" y1="317.15" x2="28.10" y2="317.15" class="tk"/>
<text x="23.10" y="320.10" font-size="8.20" text-anchor="end" fill="#333333" textLength="4.9" lengthAdjust="spacingAndGlyphs">0</text>
<line x1="25.50" y1="290.00" x2="28.10" y2="290.00" class="tk"/>
<text x="23.10" y="292.95" font-size="8.20" text-anchor="end" fill="#333333" textLength="4.9" lengthAdjust="spacingAndGlyphs">1</text>
<line x1="25.50" y1="262.85" x2="28.10" y2="262.85" class="tk"/>
<text x="23.10" y="265.80" font-size="8.20" text-anchor="end" fill="#333333" textLength="4.9" lengthAdjust="spacingAndGlyphs">2</text>
<text x="180.70" y="232.50" font-size="10.40" text-anchor="middle" fill="#333333" textLength="78.4" lengthAdjust="spacingAndGlyphs">Probability Plot</text>
<text x="180.70" y="451.00" font-size="8.20" text-anchor="middle" fill="#333333" textLength="82.6" lengthAdjust="spacingAndGlyphs">Theoretical Quantiles</text>
<text transform="translate(7.50 334.25) rotate(-90)" font-size="8.20" text-anchor="middle" fill="#333333" textLength="68" lengthAdjust="spacingAndGlyphs">Sample Quantiles</text>
<line x1="423.50" y1="237" x2="423.50" y2="432.30" class="gv"/>
<line x1="475.50" y1="237" x2="475.50" y2="432.30" class="gv"/>
<line x1="528.50" y1="237" x2="528.50" y2="432.30" class="gv"/>
<line x1="580.50" y1="237" x2="580.50" y2="432.30" class="gv"/>
<line x1="632.50" y1="237" x2="632.50" y2="432.30" class="gv"/>
<line x1="373.00" y1="401.50" x2="683.60" y2="401.50" class="g"/>
<line x1="373.00" y1="369.50" x2="683.60" y2="369.50" class="g"/>
<line x1="373.00" y1="337.50" x2="683.60" y2="337.50" class="g"/>
<line x1="373.00" y1="305.50" x2="683.60" y2="305.50" class="g"/>
<line x1="373.00" y1="273.50" x2="683.60" y2="273.50" class="g"/>
<line x1="373.00" y1="241.50" x2="683.60" y2="241.50" class="g"/>
<circle cx="386.89" cy="423.58" r="2.0"/>
<circle cx="403.06" cy="423.58" r="2.0"/>
<circle cx="412.28" cy="413.69" r="2.0"/>
<circle cx="418.88" cy="407.62" r="2.0"/>
<circle cx="424.09" cy="404.43" r="2.0"/>
<circle cx="428.44" cy="398.05" r="2.0"/>
<circle cx="432.19" cy="398.05" r="2.0"/>
<circle cx="435.50" cy="398.05" r="2.0"/>
<circle cx="438.48" cy="391.66" r="2.0"/>
<circle cx="441.20" cy="391.66" r="2.0"/>
<circle cx="443.69" cy="391.66" r="2.0"/>
<circle cx="446.01" cy="382.09" r="2.0"/>
<circle cx="448.18" cy="378.90" r="2.0"/>
<circle cx="450.22" cy="378.90" r="2.0"/>
<circle cx="452.14" cy="375.70" r="2.0"/>
<circle cx="453.97" cy="375.70" r="2.0"/>
<circle cx="455.71" cy="372.51" r="2.0"/>
<circle cx="457.38" cy="372.51" r="2.0"/>
<circle cx="458.98" cy="369.32" r="2.0"/>
<circle cx="460.51" cy="369.32" r="2.0"/>
<circle cx="461.99" cy="369.32" r="2.0"/>
<circle cx="463.41" cy="369.32" r="2.0"/>
<circle cx="464.80" cy="366.13" r="2.0"/>
<circle cx="466.13" cy="366.13" r="2.0"/>
<circle cx="467.43" cy="366.13" r="2.0"/>
<circle cx="468.69" cy="366.13" r="2.0"/>
<circle cx="469.92" cy="366.13" r="2.0"/>
<circle cx="471.12" cy="362.94" r="2.0"/>
<circle cx="472.29" cy="362.94" r="2.0"/>
<circle cx="473.43" cy="362.94" r="2.0"/>
<circle cx="474.54" cy="362.94" r="2.0"/>
<circle cx="475.64" cy="359.74" r="2.0"/>
<circle cx="476.70" cy="356.55" r="2.0"/>
<circle cx="477.75" cy="353.36" r="2.0"/>
<circle cx="478.78" cy="353.36" r="2.0"/>
<circle cx="479.79" cy="353.36" r="2.0"/>
<circle cx="480.78" cy="353.36" r="2.0"/>
<circle cx="481.76" cy="353.36" r="2.0"/>
<circle cx="482.72" cy="353.36" r="2.0"/>
<circle cx="483.66" cy="353.36" r="2.0"/>
<circle cx="484.59" cy="350.17" r="2.0"/>
<circle cx="485.51" cy="350.17" r="2.0"/>
<circle cx="486.41" cy="350.17" r="2.0"/>
<circle cx="487.30" cy="350.17" r="2.0"/>
<circle cx="488.18" cy="350.17" r="2.0"/>
<circle cx="489.05" cy="350.17" r="2.0"/>
<circle cx="489.91" cy="350.17" r="2.0"/>
<circle cx="490.76" cy="350.17" r="2.0"/>
<circle cx="491.59" cy="350.17" r="2.0"/>
<circle cx="492.42" cy="346.98" r="2.0"/>
<circle cx="493.24" cy="346.98" r="2.0"/>
<circle cx="494.05" cy="346.98" r="2.0"/>
<circle cx="494.86" cy="346.98" r="2.0"/>
<circle cx="495.65" cy="343.78" r="2.0"/>
<circle cx="496.44" cy="343.78" r="2.0"/>
<circle cx="497.22" cy="343.78" r="2.0"/>
<circle cx="497.99" cy="343.78" r="2.0"/>
<circle cx="498.76" cy="343.78" r="2.0"/>
<circle cx="499.52" cy="343.78" r="2.0"/>
<circle cx="500.28" cy="343.78" r="2.0"/>
<circle cx="501.03" cy="343.78" r="2.0"/>
<circle cx="501.77" cy="340.59" r="2.0"/>
<circle cx="502.51" cy="340.59" r="2.0"/>
<circle cx="503.25" cy="340.59" r="2.0"/>
<circle cx="503.97" cy="340.59" r="2.0"/>
<circle cx="504.70" cy="340.59" r="2.0"/>
<circle cx="505.42" cy="340.59" r="2.0"/>
<circle cx="506.13" cy="340.59" r="2.0"/>
<circle cx="506.85" cy="340.59" r="2.0"/>
<circle cx="507.55" cy="340.59" r="2.0"/>
<circle cx="508.26" cy="340.59" r="2.0"/>
<circle cx="508.96" cy="340.59" r="2.0"/>
<circle cx="509.65" cy="340.59" r="2.0"/>
<circle cx="510.35" cy="340.59" r="2.0"/>
<circle cx="511.04" cy="340.59" r="2.0"/>
<circle cx="511.73" cy="337.40" r="2.0"/>
<circle cx="512.41" cy="337.40" r="2.0"/>
<circle cx="513.09" cy="337.40" r="2.0"/>
<circle cx="513.77" cy="337.40" r="2.0"/>
<circle cx="514.45" cy="337.40" r="2.0"/>
<circle cx="515.12" cy="337.40" r="2.0"/>
<circle cx="515.80" cy="337.40" r="2.0"/>
<circle cx="516.47" cy="337.40" r="2.0"/>
<circle cx="517.14" cy="337.40" r="2.0"/>
<circle cx="517.80" cy="337.40" r="2.0"/>
<circle cx="518.47" cy="337.40" r="2.0"/>
<circle cx="519.13" cy="337.40" r="2.0"/>
<circle cx="519.80" cy="337.40" r="2.0"/>
<circle cx="520.46" cy="334.21" r="2.0"/>
<circle cx="521.12" cy="334.21" r="2.0"/>
<circle cx="521.78" cy="334.21" r="2.0"/>
<circle cx="522.43" cy="334.21" r="2.0"/>
<circle cx="523.09" cy="334.21" r="2.0"/>
<circle cx="523.75" cy="331.02" r="2.0"/>
<circle cx="524.40" cy="331.02" r="2.0"/>
<circle cx="525.06" cy="331.02" r="2.0"/>
<circle cx="525.71" cy="331.02" r="2.0"/>
<circle cx="526.37" cy="331.02" r="2.0"/>
<circle cx="527.02" cy="331.02" r="2.0"/>
<circle cx="527.67" cy="331.02" r="2.0"/>
<circle cx="528.33" cy="331.02" r="2.0"/>
<circle cx="528.98" cy="331.02" r="2.0"/>
<circle cx="529.63" cy="331.02" r="2.0"/>
<circle cx="530.29" cy="331.02" r="2.0"/>
<circle cx="530.94" cy="331.02" r="2.0"/>
<circle cx="531.60" cy="331.02" r="2.0"/>
<circle cx="532.25" cy="331.02" r="2.0"/>
<circle cx="532.91" cy="327.82" r="2.0"/>
<circle cx="533.57" cy="327.82" r="2.0"/>
<circle cx="534.22" cy="327.82" r="2.0"/>
<circle cx="534.88" cy="327.82" r="2.0"/>
<circle cx="535.54" cy="324.63" r="2.0"/>
<circle cx="536.20" cy="324.63" r="2.0"/>
<circle cx="536.87" cy="324.63" r="2.0"/>
<circle cx="537.53" cy="324.63" r="2.0"/>
<circle cx="538.20" cy="324.63" r="2.0"/>
<circle cx="538.86" cy="324.63" r="2.0"/>
<circle cx="539.53" cy="324.63" r="2.0"/>
<circle cx="540.20" cy="324.63" r="2.0"/>
<circle cx="540.88" cy="324.63" r="2.0"/>
<circle cx="541.55" cy="324.63" r="2.0"/>
<circle cx="542.23" cy="321.44" r="2.0"/>
<circle cx="542.91" cy="321.44" r="2.0"/>
<circle cx="543.59" cy="321.44" r="2.0"/>
<circle cx="544.27" cy="321.44" r="2.0"/>
<circle cx="544.96" cy="321.44" r="2.0"/>
<circle cx="545.65" cy="318.25" r="2.0"/>
<circle cx="546.35" cy="318.25" r="2.0"/>
<circle cx="547.04" cy="318.25" r="2.0"/>
<circle cx="547.74" cy="318.25" r="2.0"/>
<circle cx="548.45" cy="318.25" r="2.0"/>
<circle cx="549.15" cy="318.25" r="2.0"/>
<circle cx="549.87" cy="318.25" r="2.0"/>
<circle cx="550.58" cy="318.25" r="2.0"/>
<circle cx="551.30" cy="315.06" r="2.0"/>
<circle cx="552.03" cy="315.06" r="2.0"/>
<circle cx="552.75" cy="315.06" r="2.0"/>
<circle cx="553.49" cy="315.06" r="2.0"/>
<circle cx="554.23" cy="315.06" r="2.0"/>
<circle cx="554.97" cy="315.06" r="2.0"/>
<circle cx="555.72" cy="311.86" r="2.0"/>
<circle cx="556.48" cy="311.86" r="2.0"/>
<circle cx="557.24" cy="311.86" r="2.0"/>
<circle cx="558.01" cy="311.86" r="2.0"/>
<circle cx="558.78" cy="311.86" r="2.0"/>
<circle cx="559.56" cy="311.86" r="2.0"/>
<circle cx="560.35" cy="311.86" r="2.0"/>
<circle cx="561.14" cy="311.86" r="2.0"/>
<circle cx="561.95" cy="311.86" r="2.0"/>
<circle cx="562.76" cy="311.86" r="2.0"/>
<circle cx="563.58" cy="311.86" r="2.0"/>
<circle cx="564.41" cy="308.67" r="2.0"/>
<circle cx="565.24" cy="308.67" r="2.0"/>
<circle cx="566.09" cy="308.67" r="2.0"/>
<circle cx="566.95" cy="308.67" r="2.0"/>
<circle cx="567.82" cy="308.67" r="2.0"/>
<circle cx="568.70" cy="308.67" r="2.0"/>
<circle cx="569.59" cy="305.48" r="2.0"/>
<circle cx="570.49" cy="305.48" r="2.0"/>
<circle cx="571.41" cy="302.29" r="2.0"/>
<circle cx="572.34" cy="302.29" r="2.0"/>
<circle cx="573.28" cy="299.10" r="2.0"/>
<circle cx="574.24" cy="299.10" r="2.0"/>
<circle cx="575.22" cy="299.10" r="2.0"/>
<circle cx="576.21" cy="299.10" r="2.0"/>
<circle cx="577.22" cy="295.90" r="2.0"/>
<circle cx="578.25" cy="295.90" r="2.0"/>
<circle cx="579.30" cy="292.71" r="2.0"/>
<circle cx="580.36" cy="292.71" r="2.0"/>
<circle cx="581.46" cy="292.71" r="2.0"/>
<circle cx="582.57" cy="292.71" r="2.0"/>
<circle cx="583.71" cy="292.71" r="2.0"/>
<circle cx="584.88" cy="292.71" r="2.0"/>
<circle cx="586.08" cy="292.71" r="2.0"/>
<circle cx="587.31" cy="292.71" r="2.0"/>
<circle cx="588.57" cy="289.52" r="2.0"/>
<circle cx="589.87" cy="289.52" r="2.0"/>
<circle cx="591.20" cy="289.52" r="2.0"/>
<circle cx="592.59" cy="289.52" r="2.0"/>
<circle cx="594.01" cy="289.52" r="2.0"/>
<circle cx="595.49" cy="289.52" r="2.0"/>
<circle cx="597.02" cy="289.52" r="2.0"/>
<circle cx="598.62" cy="289.52" r="2.0"/>
<circle cx="600.29" cy="289.52" r="2.0"/>
<circle cx="602.03" cy="289.52" r="2.0"/>
<circle cx="603.86" cy="289.52" r="2.0"/>
<circle cx="605.78" cy="286.33" r="2.0"/>
<circle cx="607.82" cy="286.33" r="2.0"/>
<circle cx="609.99" cy="286.33" r="2.0"/>
<circle cx="612.31" cy="286.33" r="2.0"/>
<circle cx="614.80" cy="286.33" r="2.0"/>
<circle cx="617.52" cy="283.14" r="2.0"/>
<circle cx="620.50" cy="283.14" r="2.0"/>
<circle cx="623.81" cy="273.56" r="2.0"/>
<circle cx="627.56" cy="273.56" r="2.0"/>
<circle cx="631.91" cy="273.56" r="2.0"/>
<circle cx="637.12" cy="260.79" r="2.0"/>
<circle cx="643.72" cy="260.79" r="2.0"/>
<circle cx="652.94" cy="257.60" r="2.0"/>
<circle cx="669.11" cy="257.60" r="2.0"/>
<line x1="386.89" y1="415.66" x2="669.11" y2="244.81" stroke="#ff0000" stroke-width="1.1"/>
<path d="M372.70 236.30 V432.30 H683.60" class="sp"/>
<line x1="423.50" y1="432.30" x2="423.50" y2="429.70" class="tk"/>
<text x="423.50" y="440.70" font-size="8.20" text-anchor="middle" fill="#333333" textLength="11.4" lengthAdjust="spacingAndGlyphs">−2</text>
<line x1="475.75" y1="432.30" x2="475.75" y2="429.70" class="tk"/>
<text x="475.75" y="440.70" font-size="8.20" text-anchor="middle" fill="#333333" textLength="11.4" lengthAdjust="spacingAndGlyphs">−1</text>
<line x1="528.00" y1="432.30" x2="528.00" y2="429.70" class="tk"/>
<text x="528.00" y="440.70" font-size="8.20" text-anchor="middle" fill="#333333" textLength="4.9" lengthAdjust="spacingAndGlyphs">0</text>
<line x1="580.25" y1="432.30" x2="580.25" y2="429.70" class="tk"/>
<text x="580.25" y="440.70" font-size="8.20" text-anchor="middle" fill="#333333" textLength="4.9" lengthAdjust="spacingAndGlyphs">1</text>
<line x1="632.50" y1="432.30" x2="632.50" y2="429.70" class="tk"/>
<text x="632.50" y="440.70" font-size="8.20" text-anchor="middle" fill="#333333" textLength="4.9" lengthAdjust="spacingAndGlyphs">2</text>
<line x1="372.70" y1="401.24" x2="375.30" y2="401.24" class="tk"/>
<text x="370.30" y="404.19" font-size="8.20" text-anchor="end" fill="#333333" textLength="11.4" lengthAdjust="spacingAndGlyphs">−2</text>
<line x1="372.70" y1="369.32" x2="375.30" y2="369.32" class="tk"/>
<text x="370.30" y="372.27" font-size="8.20" text-anchor="end" fill="#333333" textLength="11.4" lengthAdjust="spacingAndGlyphs">−1</text>
<line x1="372.70" y1="337.40" x2="375.30" y2="337.40" class="tk"/>
<text x="370.30" y="340.35" font-size="8.20" text-anchor="end" fill="#333333" textLength="4.9" lengthAdjust="spacingAndGlyphs">0</text>
<line x1="372.70" y1="305.48" x2="375.30" y2="305.48" class="tk"/>
<text x="370.30" y="308.43" font-size="8.20" text-anchor="end" fill="#333333" textLength="4.9" lengthAdjust="spacingAndGlyphs">1</text>
<line x1="372.70" y1="273.56" x2="375.30" y2="273.56" class="tk"/>
<text x="370.30" y="276.51" font-size="8.20" text-anchor="end" fill="#333333" textLength="4.9" lengthAdjust="spacingAndGlyphs">2</text>
<line x1="372.70" y1="241.64" x2="375.30" y2="241.64" class="tk"/>
<text x="370.30" y="244.59" font-size="8.20" text-anchor="end" fill="#333333" textLength="4.9" lengthAdjust="spacingAndGlyphs">3</text>
<text x="528.15" y="232.50" font-size="10.40" text-anchor="middle" fill="#333333" textLength="78.4" lengthAdjust="spacingAndGlyphs">Probability Plot</text>
<text x="528.15" y="451.00" font-size="8.20" text-anchor="middle" fill="#333333" textLength="82.6" lengthAdjust="spacingAndGlyphs">Theoretical Quantiles</text>
<text transform="translate(354.70 334.30) rotate(-90)" font-size="8.20" text-anchor="middle" fill="#333333" textLength="68" lengthAdjust="spacingAndGlyphs">Sample Quantiles</text>
</svg>
</body></html>
